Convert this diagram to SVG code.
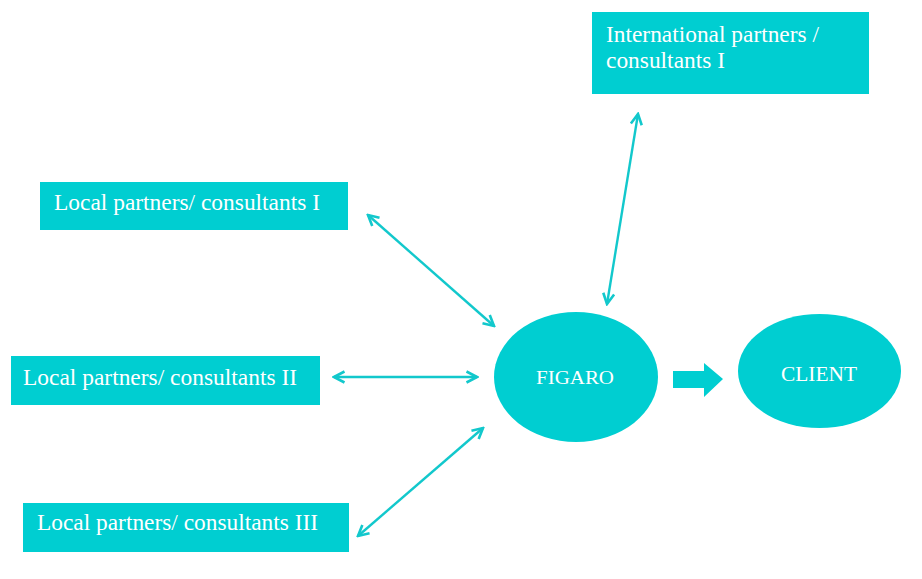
<svg xmlns="http://www.w3.org/2000/svg" width="922" height="579" viewBox="0 0 922 579">
<style>
.box{fill:#00CED1}
.t{font-family:"Liberation Serif","Times New Roman",serif;font-size:23px;fill:#ffffff}
.c{stroke:#12C8CC;stroke-width:2.4;fill:none}
</style>
<defs>
<marker id="ah" viewBox="0 0 14 14" refX="12" refY="7" markerWidth="14" markerHeight="14" markerUnits="userSpaceOnUse" orient="auto-start-reverse">
<polyline points="1.5,1.5 12,7 1.5,12.5" fill="none" stroke="#12C8CC" stroke-width="2.6"/>
</marker>
</defs>
<rect width="922" height="579" fill="#ffffff"/>
<g id="intl">
<rect class="box" x="592" y="12" width="277" height="82"/>
<text class="t" x="606" y="42" textLength="213" lengthAdjust="spacingAndGlyphs">International partners /</text>
<text class="t" x="606" y="68" textLength="119" lengthAdjust="spacingAndGlyphs">consultants I</text>
</g>
<g id="local1">
<rect class="box" x="40" y="182" width="308" height="48"/>
<text class="t" x="54" y="210" textLength="266" lengthAdjust="spacingAndGlyphs">Local partners/ consultants I</text>
</g>
<g id="local2">
<rect class="box" x="11" y="356" width="309" height="49"/>
<text class="t" x="23" y="385" textLength="274" lengthAdjust="spacingAndGlyphs">Local partners/ consultants II</text>
</g>
<g id="local3">
<rect class="box" x="23" y="503" width="326" height="49"/>
<text class="t" x="37" y="530" textLength="281" lengthAdjust="spacingAndGlyphs">Local partners/ consultants III</text>
</g>
<g id="figaro">
<ellipse class="box" cx="576" cy="377" rx="82" ry="65"/>
<text class="t" x="536" y="384" style="font-size:19px" textLength="78" lengthAdjust="spacingAndGlyphs">FIGARO</text>
</g>
<g id="client">
<ellipse class="box" cx="819.5" cy="371" rx="81.5" ry="57"/>
<text class="t" x="781" y="381" style="font-size:22px" textLength="76" lengthAdjust="spacingAndGlyphs">CLIENT</text>
</g>
<g id="connectors">
<line class="c" x1="368" y1="215" x2="494" y2="326" marker-start="url(#ah)" marker-end="url(#ah)"/>
<line class="c" x1="334" y1="377" x2="477" y2="377" marker-start="url(#ah)" marker-end="url(#ah)"/>
<line class="c" x1="358" y1="536" x2="483" y2="428" marker-start="url(#ah)" marker-end="url(#ah)"/>
<line class="c" x1="638" y1="114" x2="607" y2="304" marker-start="url(#ah)" marker-end="url(#ah)"/>
<polygon class="box" points="673,371 704,371 704,363 723,379 704,397 704,388 673,388"/>
</g>
</svg>
